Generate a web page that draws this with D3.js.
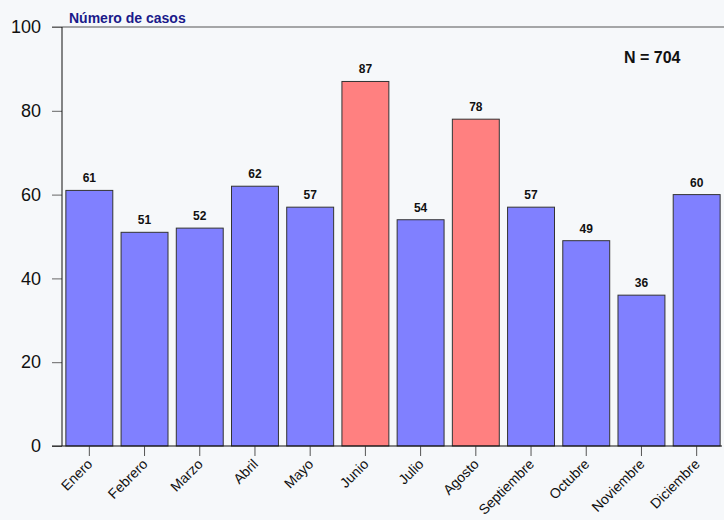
<!DOCTYPE html>
<html><head><meta charset="utf-8">
<script src="https://cdn.jsdelivr.net/npm/d3@7"></script>
<style>
html,body{margin:0;padding:0;background:#f6f8fa;}
svg{display:block;font-family:"Liberation Sans",Arial,sans-serif;}
</style></head>
<body><svg id="c" width="724" height="520"></svg>
<script>
const months = ["Enero","Febrero","Marzo","Abril","Mayo","Junio","Julio","Agosto","Septiembre","Octubre","Noviembre","Diciembre"];
const cases = [61,51,52,62,57,87,54,78,57,49,36,60];
const highlighted = ["Junio","Agosto"];
const yTicks = [0,20,40,60,80,100];
const title = "Número de casos";
const totalLabel = "N = 704";

const svg = d3.select("#c");
const x = d3.scaleBand().domain(months).range([62,724]).paddingInner(0.15).paddingOuter(0.07);
const y = d3.scaleLinear().domain([0,100]).range([446,27]);

// top line
svg.append("line").attr("x1",52).attr("x2",724).attr("y1",y(100)).attr("y2",y(100)).attr("stroke","#555").attr("stroke-width",1);

// bars
svg.selectAll("rect.bar").data(months).enter().append("rect")
  .attr("x",d=>x(d)).attr("width",x.bandwidth())
  .attr("y",(d,i)=>y(cases[i])).attr("height",(d,i)=>y(0)-y(cases[i]))
  .attr("fill",d=>highlighted.includes(d)?"#ff8080":"#8080ff")
  .attr("stroke","#333").attr("stroke-width",1);

// value labels
svg.selectAll("text.val").data(months).enter().append("text")
  .attr("x",d=>x(d)+x.bandwidth()/2).attr("y",(d,i)=>y(cases[i])-8)
  .attr("text-anchor","middle").attr("font-size",12).attr("font-weight","bold").attr("fill","#111")
  .text((d,i)=>cases[i]);

// y axis
const ya = svg.append("g").attr("transform","translate(62,0)")
  .call(d3.axisLeft(y).tickValues(yTicks).tickSize(10).tickPadding(11));
ya.select(".domain").remove();
ya.selectAll(".tick line").attr("stroke","#666");
ya.selectAll(".tick text").attr("font-size",18).attr("fill","#111").attr("font-family","Liberation Sans, Arial, sans-serif");
svg.append("line").attr("x1",62).attr("x2",62).attr("y1",y(100)).attr("y2",y(0)).attr("stroke","#111");

// x axis
const xa = svg.append("g").attr("transform",`translate(0,${y(0)})`)
  .call(d3.axisBottom(x).tickSize(10).tickSizeOuter(0));
xa.select(".domain").remove();
xa.selectAll(".tick line").attr("stroke","#555");
xa.selectAll(".tick text").attr("font-size",14).attr("fill","#111").attr("font-family","Liberation Sans, Arial, sans-serif")
  .attr("text-anchor","end").attr("dy",null).attr("y",0)
  .attr("transform","translate(4,19) rotate(-45)");
svg.append("line").attr("x1",52).attr("x2",722).attr("y1",y(0)).attr("y2",y(0)).attr("stroke","#111");

// title
svg.append("text").attr("x",69).attr("y",23).attr("font-size",14).attr("font-weight","bold").attr("fill","#1a1a8a").text(title);
svg.append("text").attr("x",624).attr("y",63).attr("font-size",16).attr("font-weight","bold").attr("fill","#111").text(totalLabel);
</script></body></html>
